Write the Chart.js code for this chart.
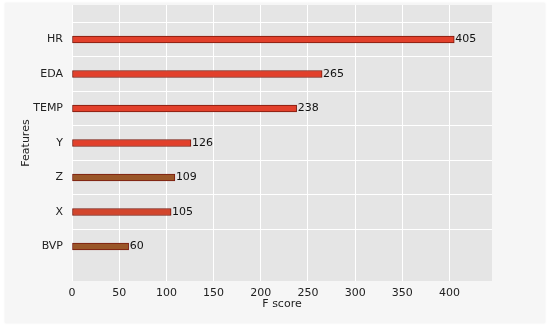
<!DOCTYPE html>
<html>
<head>
<meta charset="utf-8">
<script src="https://cdn.jsdelivr.net/npm/chart.js@4/dist/chart.umd.min.js"></script>
<style>
  html, body { margin: 0; padding: 0; background: #fff; }
  #wrap { position: relative; width: 550px; height: 331px; }
  #card {
    position: absolute; left: 5px; top: 3px; width: 540px; height: 320px;
    background: #f6f6f6; box-shadow: 0 0 2px rgba(0,0,0,0.08);
  }
  #chart { position: absolute; left: 0; top: 0; }
</style>
</head>
<body>
<div id="wrap">
  <div id="card"></div>
  <canvas id="chart" width="550" height="331"></canvas>
</div>
<script>
// feature importance (F score), top to bottom
const features = ['HR', 'EDA', 'TEMP', 'Y', 'Z', 'X', 'BVP'];
const fScores = [405, 265, 238, 126, 109, 105, 60];
const barColors = ['#e2402b', '#e2402b', '#e2402b', '#e2402b', '#9a5628', '#d2452c', '#9a5628'];
const xTicks = [0, 50, 100, 150, 200, 250, 300, 350, 400];

// matplotlib leaves a full step of room above the first and below the last bar
const labels = ['', ...features, ''];
const values = [null, ...fScores, null];
const colors = ['#000', ...barColors, '#000'];

const FONT = 'DejaVu Sans, sans-serif';

const plotBg = {
  id: 'plotBg',
  beforeDraw(chart) {
    const { ctx, chartArea: a } = chart;
    ctx.save();
    ctx.fillStyle = '#e5e5e5';
    ctx.fillRect(a.left, a.top, a.right - a.left, a.bottom - a.top);
    ctx.restore();
  },
};

const valueLabels = {
  id: 'valueLabels',
  afterDatasetsDraw(chart) {
    const { ctx } = chart;
    const meta = chart.getDatasetMeta(0);
    ctx.save();
    ctx.font = '11px ' + FONT;
    ctx.fillStyle = '#111';
    ctx.textBaseline = 'middle';
    meta.data.forEach((bar, i) => {
      const v = values[i];
      if (v == null) return;
      ctx.fillText(String(v), bar.x + 1, bar.y);
    });
    ctx.restore();
  },
};

new Chart(document.getElementById('chart'), {
  type: 'bar',
  data: {
    labels,
    datasets: [{
      data: values,
      backgroundColor: colors,
      borderColor: '#7a1a0e',
      borderWidth: 1,
      borderSkipped: false,
      barThickness: 7,
    }],
  },
  options: {
    indexAxis: 'y',
    responsive: false,
    animation: false,
    layout: { padding: { left: 20, right: 58, top: 5, bottom: 20 } },
    plugins: {
      legend: { display: false },
      tooltip: { enabled: false },
    },
    scales: {
      x: {
        min: 0,
        max: 445,
        afterBuildTicks(axis) {
          axis.ticks = xTicks.map((v) => ({ value: v }));
        },
        afterFit(axis) {
          axis.height = 30;
          axis.paddingLeft = 0;
          axis.paddingRight = 0;
        },
        grid: { color: '#ffffff', lineWidth: 1, drawTicks: false },
        border: { display: false },
        ticks: {
          font: { family: FONT, size: 11 },
          color: '#222',
          padding: 6,
          maxRotation: 0,
        },
        title: {
          display: true,
          text: 'F score',
          font: { family: FONT, size: 11 },
          color: '#222',
          padding: { top: 1, bottom: 0 },
        },
      },
      y: {
        offset: false,
        afterFit(axis) {
          axis.width = 52;
          axis.paddingTop = 0;
          axis.paddingBottom = 0;
        },
        grid: {
          color: (c) => (c.index === 0 || c.index === labels.length - 1 ? 'rgba(0,0,0,0)' : '#ffffff'),
          lineWidth: 1,
          drawTicks: false,
        },
        border: { display: false },
        ticks: {
          font: { family: FONT, size: 11 },
          color: '#222',
          padding: 9,
          autoSkip: false,
        },
        title: {
          display: true,
          text: 'Features',
          font: { family: FONT, size: 11 },
          color: '#222',
          padding: { top: 0, bottom: 0 },
        },
      },
    },
  },
  plugins: [plotBg, valueLabels],
});
</script>
</body>
</html>
